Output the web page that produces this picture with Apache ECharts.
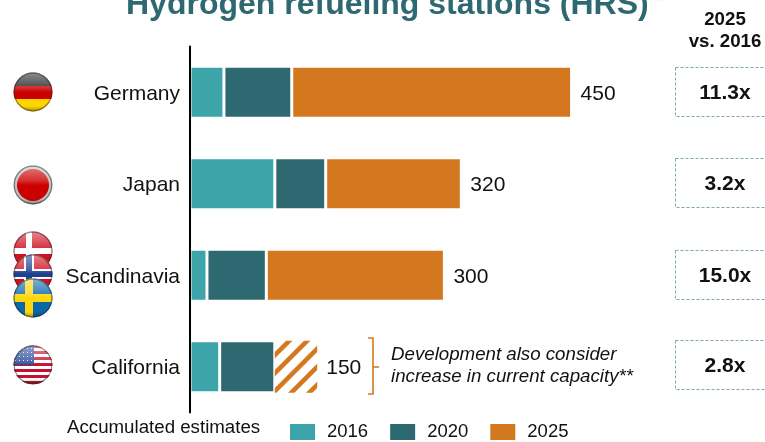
<!DOCTYPE html>
<html>
<head>
<meta charset="utf-8">
<style>
html, body { margin: 0; padding: 0; background: #fff; overflow: hidden; }
#chart { width: 765px; height: 442px; }
</style>
<script src="https://cdn.jsdelivr.net/npm/echarts@6/dist/echarts.min.js"></script>
</head>
<body>
<div id="chart"></div>
<script>
var regions = ["Germany", "Japan", "Scandinavia", "California"];
var years = ["2016", "2020", "2025"];
var values2016 = [40, 100, 20, 35];
var values2020 = [80, 60, 70, 65];
var values2025 = [330, 160, 210, 50];
var totals = [450, 320, 300, 150];
var multiples = ["11.3x", "3.2x", "15.0x", "2.8x"];

var FONT = '"Liberation Sans", Arial, sans-serif';
var TEAL = "#3da4aa";
var DARK = "#2e6871";
var ORANGE = "#d4781f";

// stripes for the estimated part of California
function stripeTile() {
  var c = document.createElement("canvas");
  c.width = 18;
  c.height = 18;
  var g = c.getContext("2d");
  g.fillStyle = "#fff";
  g.fillRect(0, 0, 18, 18);
  g.strokeStyle = ORANGE;
  g.lineWidth = 4.5;
  [-18, 0, 18].forEach(function (o) {
    g.beginPath();
    g.moveTo(o - 4, 22);
    g.lineTo(o + 22, -4);
    g.stroke();
  });
  return c;
}

// round glossy flag button
function flag(paint) {
  var c = document.createElement("canvas");
  c.width = 40;
  c.height = 40;
  var g = c.getContext("2d");
  g.save();
  g.beginPath();
  g.arc(20, 20, 19.5, 0, Math.PI * 2);
  g.clip();
  paint(g);
  var gloss = g.createLinearGradient(0, 0, 0, 40);
  gloss.addColorStop(0, "rgba(255,255,255,0.5)");
  gloss.addColorStop(0.4, "rgba(255,255,255,0.18)");
  gloss.addColorStop(0.5, "rgba(255,255,255,0)");
  gloss.addColorStop(0.85, "rgba(0,0,0,0)");
  gloss.addColorStop(1, "rgba(0,0,0,0.35)");
  g.fillStyle = gloss;
  g.fillRect(0, 0, 40, 40);
  g.restore();
  g.beginPath();
  g.arc(20, 20, 18.8, 0, Math.PI * 2);
  g.strokeStyle = "rgba(40,40,40,0.5)";
  g.lineWidth = 1.2;
  g.stroke();
  return c;
}

function bands(g, list) {
  list.forEach(function (b) {
    g.fillStyle = b[0];
    g.fillRect(0, b[1], 40, b[2]);
  });
}

function cross(g, bg, outer, outerW, inner, innerW) {
  g.fillStyle = bg;
  g.fillRect(0, 0, 40, 40);
  g.fillStyle = outer;
  g.fillRect(0, 20 - outerW / 2, 40, outerW);
  g.fillRect(16 - outerW / 2, 0, outerW, 40);
  if (inner) {
    g.fillStyle = inner;
    g.fillRect(0, 20 - innerW / 2, 40, innerW);
    g.fillRect(16 - innerW / 2, 0, innerW, 40);
  }
}

var flags = [
  { y: 72, paint: function (g) { bands(g, [["#222", 0, 14], ["#cc0000", 14, 13], ["#ffd400", 27, 13]]); } },
  { y: 165, paint: function (g) {
      bands(g, [["#bdbdbd", 0, 40]]);
      g.fillStyle = "#cc0000";
      g.beginPath();
      g.arc(20, 20, 16, 0, Math.PI * 2);
      g.fill();
    } },
  { y: 231, paint: function (g) { cross(g, "#cf1020", "#fff", 6); } },
  { y: 254, paint: function (g) { cross(g, "#cf1020", "#fff", 10, "#1c3f8f", 6); } },
  { y: 278, paint: function (g) { cross(g, "#0a68a8", "#ffd60a", 8); } },
  { y: 345, paint: function (g) {
      bands(g, [["#fff", 0, 40]]);
      g.fillStyle = "#c8102e";
      for (var i = 0; i < 7; i++) g.fillRect(0, i * 6, 40, 3);
      g.fillStyle = "#2a4c9a";
      g.fillRect(0, 0, 21, 20);
      g.fillStyle = "#dfe6f5";
      for (var x = 2; x < 20; x += 4) for (var y = 3; y < 19; y += 4) g.fillRect(x, y, 1, 1);
    } }
];

var graphics = [];

function addText(text, x, y, size, opts) {
  opts = opts || {};
  graphics.push({
    type: "text",
    x: x,
    y: y,
    z: 10,
    style: {
      text: text,
      fill: opts.fill || "#111",
      font: (opts.italic ? "italic " : "") + (opts.bold ? "bold " : "") + size + "px " + FONT,
      align: opts.align || "left",
      verticalAlign: "middle"
    }
  });
}

addText("Hydrogen refueling stations (HRS)", 126, 5, 32, { bold: true, fill: DARK });
addText("**", 653, 2, 12, { fill: "#a9c6c9" });
addText("2025", 725, 19.5, 18.7, { bold: true, align: "center" });
addText("vs. 2016", 725, 41.5, 18.7, { bold: true, align: "center" });
addText("Development also consider", 391, 355, 18.7, { italic: true });
addText("increase in current capacity**", 391, 376.5, 18.7, { italic: true });
addText("Accumulated estimates", 67, 428, 18.7);

var boxTops = [67, 158, 250, 340];
boxTops.forEach(function (top, i) {
  graphics.push({
    type: "rect",
    z: 5,
    shape: { x: 675.5, y: top + 0.5, width: 100, height: 49 },
    style: { fill: null, stroke: "#7fa8ad", lineWidth: 1, lineDash: [3, 2] }
  });
  addText(multiples[i], 725, top + 26, 21, { bold: true, align: "center" });
});

graphics.push({
  type: "polyline",
  z: 5,
  shape: { points: [[368, 338], [373, 338], [373, 367], [379, 367], [373, 367], [373, 394], [368, 394]] },
  style: { fill: null, stroke: ORANGE, lineWidth: 1.6 }
});

flags.forEach(function (f) {
  graphics.push({
    type: "image",
    z: 6,
    style: { image: flag(f.paint), x: 13, y: f.y, width: 40, height: 40 }
  });
});

var chart = echarts.init(document.getElementById("chart"), null, { renderer: "canvas" });

var lastData = values2025.map(function (v, i) {
  if (i !== 3) return v;
  return {
    value: v,
    itemStyle: { color: { image: stripeTile(), repeat: "repeat" }, borderWidth: 0 }
  };
});

function barSeries(name, color, data, extra) {
  return Object.assign({
    name: name,
    type: "bar",
    stack: "total",
    barWidth: 52,
    itemStyle: { color: color, borderColor: "#fff", borderWidth: 1.5 },
    data: data
  }, extra || {});
}

chart.setOption({
  animation: false,
  backgroundColor: "#fff",
  grid: { left: 190, right: 151, top: 46.5, bottom: 29.5, containLabel: false },
  legend: {
    left: 288,
    top: 422,
    padding: 0,
    itemWidth: 27,
    itemHeight: 18,
    itemGap: 20,
    icon: "rect",
    selectedMode: false,
    data: years,
    textStyle: { fontFamily: FONT, fontSize: 18.5, color: "#111", padding: [2, 0, 0, 6] }
  },
  xAxis: { type: "value", min: 0, max: 500, show: false },
  yAxis: {
    type: "category",
    inverse: true,
    z: 5,
    data: regions,
    axisLine: { show: true, lineStyle: { color: "#000", width: 2 } },
    axisTick: { show: false },
    axisLabel: { fontFamily: FONT, fontSize: 21, color: "#111", margin: 10, verticalAlign: "top", lineHeight: 3 }
  },
  series: [
    barSeries(years[0], TEAL, values2016),
    barSeries(years[1], DARK, values2020),
    barSeries(years[2], ORANGE, lastData, {
      label: {
        show: true,
        position: "right",
        distance: 9,
        offset: [0, 1.5],
        fontFamily: FONT,
        fontSize: 21,
        color: "#111",
        formatter: function (p) { return totals[p.dataIndex]; }
      }
    })
  ],
  graphic: graphics
});
</script>
</body>
</html>
